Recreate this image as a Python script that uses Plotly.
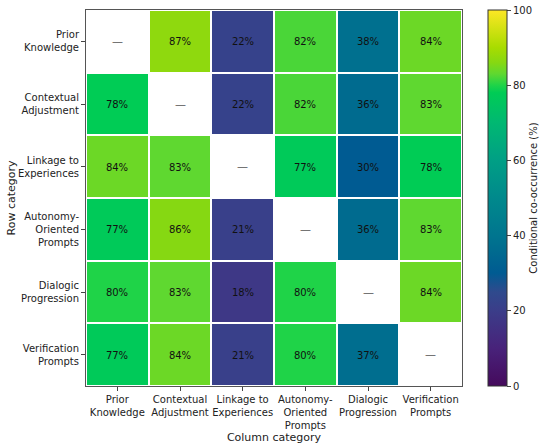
import plotly.graph_objects as go

categories = ["Prior<br>Knowledge", "Contextual<br>Adjustment", "Linkage to<br>Experiences",
              "Autonomy-<br>Oriented<br>Prompts", "Dialogic<br>Progression", "Verification<br>Prompts"]

# rows = row category, columns = column category, diagonal left empty
row_prior = [None, 87, 22, 82, 38, 84]
row_context = [78, None, 22, 82, 36, 83]
row_linkage = [84, 83, None, 77, 30, 78]
row_autonomy = [77, 86, 21, None, 36, 83]
row_dialogic = [80, 83, 18, 80, None, 84]
row_verif = [77, 84, 21, 80, 37, None]

z = [row_prior, row_context, row_linkage, row_autonomy, row_dialogic, row_verif]
text = [["" if v is None else f"{v}%" for v in row] for row in z]

# viridis as it looks in the picture (more saturated)
colorscale = [
    [0.0, "#450a5c"], [0.1, "#48227a"], [0.2, "#3b3d89"], [0.25, "#2f4a8d"],
    [0.3, "#005b92"], [0.36, "#006b8f"], [0.4, "#00758f"], [0.5, "#00898c"],
    [0.6, "#009f85"], [0.7, "#00b872"], [0.78, "#00cc55"], [0.8, "#1fd348"],
    [0.83, "#5fd830"], [0.86, "#86d812"], [0.9, "#a8dc00"], [1.0, "#fde725"],
]

fig = go.Figure()
fig.add_trace(go.Heatmap(
    z=z, x=categories, y=categories,
    text=text, texttemplate="%{text}",
    textfont=dict(size=10, color="#111111", family="DejaVu Sans"),
    colorscale=colorscale, zmin=0, zmax=100,
    xgap=2, ygap=2, hoverongaps=False,
    colorbar=dict(
        title=dict(text="Conditional co-occurrence (%)", side="right",
                   font=dict(size=10, family="DejaVu Sans", color="#222")),
        tickvals=[0, 20, 40, 60, 80, 100], ticks="outside", ticklen=4,
        tickfont=dict(size=10, family="DejaVu Sans", color="#222"),
        thickness=19, len=1.0, lenmode="fraction", x=1.069, xanchor="left",
        xpad=0, ypad=0,
        y=0.5, yanchor="middle", outlinewidth=1, outlinecolor="#333",
    ),
))

# empty diagonal gets a dash
for i in range(len(categories)):
    fig.add_annotation(x=categories[i], y=categories[i], text="—", showarrow=False,
                       font=dict(size=11, color="#555555", family="DejaVu Sans"))

fig.update_xaxes(title=dict(text="Column category", font=dict(size=11, color="#222"), standoff=0),
                 ticks="outside", ticklen=4, tickcolor="#444", automargin=False,
                 tickfont=dict(size=10, color="#222"),
                 showline=True, linecolor="#555", linewidth=1, mirror=True, tickangle=0)
fig.update_yaxes(title=dict(text="Row category", font=dict(size=11, color="#222"), standoff=0),
                 ticks="outside", ticklen=4, tickcolor="#444", automargin=False,
                 tickfont=dict(size=10, color="#222"),
                 autorange="reversed",
                 showline=True, linecolor="#555", linewidth=1, mirror=True)

fig.update_layout(
    width=550, height=445,
    margin=dict(l=86, r=88, t=10, b=59, autoexpand=False),
    plot_bgcolor="white", paper_bgcolor="white",
    font=dict(family="DejaVu Sans", color="#222"),
)
fig.write_html("out.html", config={"displayModeBar": False},
               post_script="document.body.style.margin='0';")
